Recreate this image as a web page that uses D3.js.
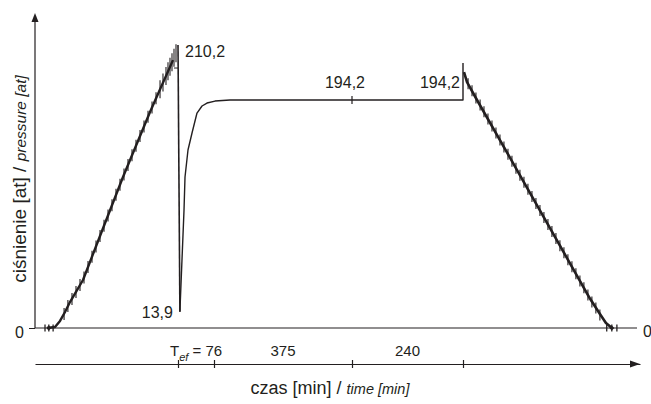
<!DOCTYPE html>
<html>
<head>
<meta charset="utf-8">
<script src="https://cdn.jsdelivr.net/npm/d3@7"></script>
<style>
  body { margin: 0; background: #fff; }
  svg text { font-family: "Liberation Sans", Arial, Helvetica, sans-serif; fill: #231f20; }
</style>
</head>
<body>
<svg id="chart" width="651" height="404"></svg>
<script>
// Time in minutes from the start of the record, pressure in at.
const timeBreaks = [0, 300, 376, 751, 991, 1374];      // piecewise time axis (schematic)
const phaseTicks = [300, 376, 751, 991];               // drop, end of T_ef, +375 min, +240 min
const tEfValue = 76;
const phaseDurations = [375, 240];
const pressureBreaks = [0, 194.2, 210.2];

// Pressure build-up before the drop
const rampUp = [[25, 0], [42, 0.9], [52.5, 6.0], [63, 13.6], [73.4, 22.1], [86, 30.7],
  [100.7, 40.9], [136.4, 78.4], [184.6, 128.6], [241.3, 184.0], [252.4, 194.2], [289.5, 205.8]];
// Pump strokes along the build-up
const rampUpStrokes = [[61, 11.9], [69, 18.7], [77.6, 24.7], [86, 30.7], [94.4, 36.6], [102.8, 43.1],
  [111.2, 51.9], [119.6, 60.7], [128, 69.5], [136.4, 78.4], [144.8, 87.1], [153.2, 95.8],
  [161.5, 104.6], [169.9, 113.4], [178.3, 122.1], [186.7, 130.7], [195.1, 138.8], [203.5, 147.1],
  [211.9, 155.3], [220.3, 163.5], [228.7, 171.7], [237.1, 179.9], [245.5, 187.8], [253.9, 194.7],
  [262.3, 197.3], [268.5, 199.3], [274.8, 201.2], [279, 202.6], [283.2, 203.9], [287.4, 205.2],
  [291.6, 206.5], [295.8, 207.8]];
const notch = [[291.6, 203.5], [300, 203.5]];
const peak = [300, 210.2];
const dip = [304, 13.9];
// Recovery after the drop, plateau and the final step up
const recovery = [[304, 13.9], [308.4, 57.9], [312.7, 100.5], [314.8, 128.6], [321.1, 151.6],
  [329.6, 166.1], [340.1, 183.1], [350.7, 189.1], [361.2, 191.6], [378.7, 193.3], [419.4, 194.2],
  [991, 194.2], [991, 205.0]];
const plateauMark = [751, 194.2];
const endMark = [991, 194.2];
// Pressure release
const rampDown = [[993.2, 202.3], [999.7, 199.4], [1021.3, 194.2], [1086.1, 149.6], [1129.4, 119.6],
  [1200.8, 70.1], [1265.7, 25.1], [1287.3, 11.9], [1300.3, 4.3], [1313.3, 0]];
const rampDownStrokes = [[1002, 198.9], [1010.5, 196.9], [1019, 194.8], [1028, 190.0], [1036.4, 184.1],
  [1045, 178.0], [1053.7, 172.1], [1062.3, 166.1], [1071, 160.1], [1079.6, 154.1], [1088.3, 148.0],
  [1096.9, 142.1], [1105.6, 136.1], [1114.2, 130.1], [1122.9, 124.1], [1131.5, 118.1], [1140.2, 112.1],
  [1148.8, 106.1], [1157.5, 100.1], [1166.1, 94.1], [1174.8, 88.1], [1183.4, 82.1], [1192.1, 76.2],
  [1200.7, 70.1], [1209.4, 64.1], [1218, 58.1], [1226.7, 52.1], [1235.3, 46.2], [1244, 40.1],
  [1252.6, 34.2], [1261.3, 28.1], [1269.9, 22.1], [1278.5, 17.0], [1287.2, 11.1]];
const baseMarksStart = [21, 29, 38];
const baseMarksEnd = [1302, 1313, 1324];

const ink = "#231f20";
const svg = d3.select("#chart");

const x = d3.scaleLinear().domain(timeBreaks).range([35, 178, 214, 352, 463, 640]);
const y = d3.scaleLinear().domain(pressureBreaks).range([328, 100, 45]);
const line = d3.line().x(d => x(d[0])).y(d => y(d[1]));
const fmt = d3.formatLocale({ decimal: ",", thousands: " ", grouping: [3], currency: ["", ""] }).format(".1f");

// ---- pressure axis with arrow ----
const y0 = y(0);
svg.append("line").attr("x1", x(0)).attr("x2", x(0)).attr("y1", y0).attr("y2", 20)
  .attr("stroke", ink).attr("stroke-width", 1.2);
svg.append("path").attr("d", `M${x(0)},13 L${x(0) - 3.5},22 L${x(0) + 3.5},22 Z`).attr("fill", ink);

const yAxis = svg.append("g").attr("transform", `translate(${x(0)},0)`)
  .call(d3.axisLeft(y).tickValues([0]).tickSize(6).tickSizeOuter(0).tickPadding(5).tickFormat(d3.format("d")));
yAxis.select(".domain").remove();
yAxis.selectAll("line").attr("stroke", ink);
yAxis.selectAll("text").attr("font-size", 16).attr("dy", "0.57em")
  .style("font-family", "'Liberation Sans', Arial, sans-serif").attr("fill", ink);

// zero baseline across the chart
svg.append("line").attr("x1", x(0)).attr("x2", x(timeBreaks[5]) - 3).attr("y1", y0).attr("y2", y0)
  .attr("stroke", ink).attr("stroke-width", 1.2);
svg.append("text").attr("x", x(timeBreaks[5]) + 3).attr("y", y0).attr("dy", "0.57em")
  .attr("font-size", 16).text("0");

// pressure axis title
const yTitle = svg.append("text").attr("transform", "translate(26,179) rotate(-90)")
  .attr("text-anchor", "middle");
yTitle.append("tspan").attr("font-size", 19).text("ciśnienie [at] / ");
yTitle.append("tspan").attr("font-size", 15.5).attr("font-style", "italic").text("pressure [at]");

// ---- time axis ----
const tAxis = svg.append("g").attr("transform", "translate(0,364)")
  .call(d3.axisBottom(x).tickValues(phaseTicks).tickSize(4).tickSizeOuter(0).tickFormat(""));
tAxis.select(".domain").attr("stroke", ink).attr("stroke-width", 1.2);
tAxis.selectAll(".tick line").attr("y1", -4).attr("y2", 4).attr("stroke", ink).attr("stroke-width", 1.2);
svg.append("path").attr("d", `M${x(timeBreaks[5])},364 L${x(timeBreaks[5]) - 10},360.5 L${x(timeBreaks[5]) - 10},367.5 Z`)
  .attr("fill", ink);

// phase labels
const tef = svg.append("text").attr("x", x(phaseTicks[0]) - 8).attr("y", 356).attr("font-size", 15);
tef.append("tspan").text("T");
tef.append("tspan").attr("font-size", 11).attr("font-style", "italic").attr("dy", 5).text("ef");
tef.append("tspan").attr("dy", -5).text(" = " + tEfValue);
phaseDurations.forEach((d, i) => {
  const mid = (x(phaseTicks[i + 1]) + x(phaseTicks[i + 2])) / 2;
  svg.append("text").attr("x", mid).attr("y", 356).attr("text-anchor", "middle")
    .attr("font-size", 15).text(d);
});

// time axis title
const xTitle = svg.append("text").attr("x", 330).attr("y", 394).attr("text-anchor", "middle");
xTitle.append("tspan").attr("font-size", 18).text("czas [min] / ");
xTitle.append("tspan").attr("font-size", 14.5).attr("font-style", "italic").text("time [min]");

// ---- pressure record ----
const rec = svg.append("g").attr("fill", "none").attr("stroke", ink).attr("stroke-linejoin", "round");

rec.append("path").attr("d", line(rampUp)).attr("stroke-width", 2.4);
rec.selectAll(".sUp").data(rampUpStrokes).join("line").attr("class", "sUp")
  .attr("x1", d => x(d[0])).attr("x2", d => x(d[0]))
  .attr("y1", d => y(d[1]) - (d[1] > 195 ? 9 : 6)).attr("y2", d => y(d[1]) + (d[1] > 195 ? 9 : 6))
  .attr("stroke-width", 1.1);
rec.append("path").attr("d", line(notch)).attr("stroke-width", 1);

// sudden drop
rec.append("path").attr("d", line([peak, dip])).attr("stroke-width", 1.6);
rec.append("path").attr("d", line(recovery)).attr("stroke-width", 1.4);
rec.append("line").attr("x1", x(plateauMark[0])).attr("x2", x(plateauMark[0]))
  .attr("y1", y(plateauMark[1]) - 4).attr("y2", y(plateauMark[1]) + 4).attr("stroke-width", 1.2);

rec.append("path").attr("d", line(rampDown)).attr("stroke-width", 2.6);
rec.selectAll(".sDn").data(rampDownStrokes).join("line").attr("class", "sDn")
  .attr("x1", d => x(d[0])).attr("x2", d => x(d[0]))
  .attr("y1", d => y(d[1]) - 5.5).attr("y2", d => y(d[1]) + 5.5)
  .attr("stroke-width", 1.1);

// valve marks on the baseline
[baseMarksStart, baseMarksEnd].forEach(marks => {
  rec.selectAll(null).data(marks).join("line")
    .attr("x1", d => x(d)).attr("x2", d => x(d)).attr("y1", y0 - 3.5).attr("y2", y0 + 3.5)
    .attr("stroke-width", 1.3);
  rec.append("path").attr("d", `M${x(marks[1]) - 2.5},${y0} L${x(marks[1])},${y0 - 2.5} L${x(marks[1]) + 2.5},${y0} L${x(marks[1])},${y0 + 2.5} Z`)
    .attr("fill", ink).attr("stroke", "none");
});

// value labels
svg.append("text").attr("x", x(peak[0]) + 7).attr("y", y(peak[1]) + 12).attr("font-size", 16).text(fmt(peak[1]));
svg.append("text").attr("x", x(dip[0]) - 7).attr("y", y(dip[1]) + 6).attr("text-anchor", "end")
  .attr("font-size", 16).text(fmt(dip[1]));
svg.append("text").attr("x", x(plateauMark[0]) + 13).attr("y", y(plateauMark[1]) - 12).attr("text-anchor", "end")
  .attr("font-size", 16).text(fmt(plateauMark[1]));
svg.append("text").attr("x", x(endMark[0]) - 3).attr("y", y(endMark[1]) - 12).attr("text-anchor", "end")
  .attr("font-size", 16).text(fmt(endMark[1]));
</script>
</body>
</html>
